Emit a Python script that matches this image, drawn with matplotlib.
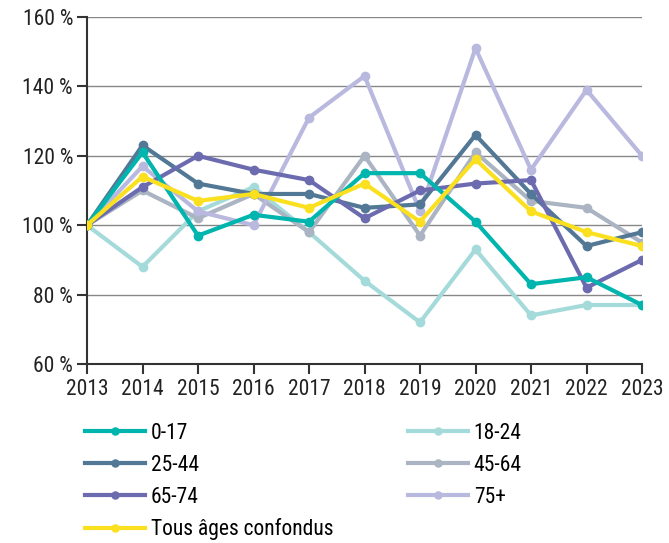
import matplotlib.pyplot as plt
from matplotlib.ticker import FuncFormatter
from matplotlib import font_manager

names = {f.name for f in font_manager.fontManager.ttflist}
cands = ['Roboto Condensed', 'Liberation Sans Narrow', 'Open Sans Condensed', 'Noto Sans Condensed', 'Roboto', 'DejaVu Sans']
fam = [c for c in cands if c in names]
plt.rcParams['font.family'] = fam + ['DejaVu Sans']
stretch = 'condensed'

years = list(range(2013, 2024))

v_0_17 = [100, 121, 97, 103, 101, 115, 115, 101, 83, 85, 77]
v_18_24 = [100, 88, 104, 111, 98, 84, 72, 93, 74, 77, 77]
v_25_44 = [100, 123, 112, 109, 109, 105, 106, 126, 109, 94, 98]
v_45_64 = [100, 110, 102, 109, 98, 120, 97, 121, 107, 105, 95]
v_65_74 = [100, 111, 120, 116, 113, 102, 110, 112, 113, 82, 90]
v_75p = [100, 117, 104, 100, 131, 143, 104, 151, 116, 139, 120]
v_tous = [100, 114, 107, 109, 105, 112, 101, 119, 104, 98, 94]

series = [
    ("0-17", v_0_17, "#00B5AE"),
    ("18-24", v_18_24, "#A5DADB"),
    ("25-44", v_25_44, "#527895"),
    ("45-64", v_45_64, "#AAB4C2"),
    ("65-74", v_65_74, "#6C6BB0"),
    ("75+", v_75p, "#B9B9DF"),
    ("Tous âges confondus", v_tous, "#FAE01E"),
]

fig = plt.figure(figsize=(6.69, 5.43), dpi=100)
ax = fig.add_axes([87 / 669, 1 - 364 / 543, (642 - 87) / 669, (364 - 17) / 543])

# draw order: yellow on top
order = [1, 3, 5, 2, 4, 0, 6]
lines = {}
for z, i in enumerate(order):
    name, vals, col = series[i]
    ln, = ax.plot(years, vals, color=col, lw=3, marker='o', ms=6,
                  label=name, solid_joinstyle='round', zorder=3 + z)
    lines[i] = ln

ax.set_xlim(2013, 2023)
ax.set_ylim(60, 160)
ax.set_yticks(range(60, 161, 20))
ax.set_xticks(years)
ax.yaxis.set_major_formatter(FuncFormatter(lambda v, p: f"{int(v)} %"))
ax.grid(axis='y', color='#888888', lw=1)
ax.set_axisbelow(True)
for s in ['top', 'right']:
    ax.spines[s].set_visible(False)
for s in ['left', 'bottom']:
    ax.spines[s].set_color('#333333')
    ax.spines[s].set_linewidth(1.5)
ax.tick_params(axis='both', labelsize=15.5, color='#333333', width=1.5, length=7, colors='#222222')
ax.tick_params(axis='y', pad=3)
ax.tick_params(axis='x', pad=4)
for t in ax.get_xticklabels() + ax.get_yticklabels():
    t.set_fontstretch(stretch)

# two legend columns, placed separately
def add_leg(idx, x):
    leg = fig.legend([lines[i] for i in idx], [series[i][0] for i in idx],
                     loc='upper left', bbox_to_anchor=(x / 669, 1 - 423 / 543),
                     frameon=False, fontsize=15.5, handlelength=2.8, borderpad=0,
                     labelspacing=0.5, handletextpad=0.25, markerscale=0.85,
                     borderaxespad=0)
    for t in leg.get_texts():
        t.set_fontstretch(stretch)
    return leg

add_leg([0, 2, 4, 6], 85)
add_leg([1, 3, 5], 408)

fig.savefig('out.png', dpi=100)
